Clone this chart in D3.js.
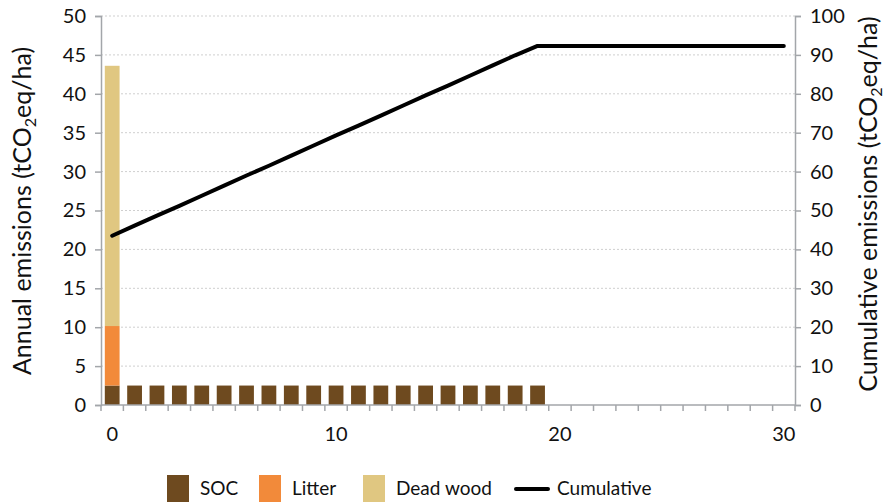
<!DOCTYPE html>
<html><head><meta charset="utf-8">
<script src="https://cdn.jsdelivr.net/npm/d3@7"></script>
<style>body{margin:0;background:#fff}svg{display:block}text{font-family:Lato,sans-serif;fill:#111}</style>
</head><body><svg id="c" width="886" height="503"></svg>
<script>
const years = d3.range(0, 31);
const soc = [2.5,2.5,2.5,2.5,2.5,2.5,2.5,2.5,2.5,2.5,2.5,2.5,2.5,2.5,2.5,2.5,2.5,2.5,2.5,2.5,0,0,0,0,0,0,0,0,0,0,0];
const litter = [7.65,0,0,0,0,0,0,0,0,0,0,0,0,0,0,0,0,0,0,0,0,0,0,0,0,0,0,0,0,0,0];
const deadWood = [33.45,0,0,0,0,0,0,0,0,0,0,0,0,0,0,0,0,0,0,0,0,0,0,0,0,0,0,0,0,0,0];
const cumulative = [43.5,46.1,48.7,51.2,53.8,56.4,59.0,61.5,64.1,66.7,69.3,71.8,74.4,77.0,79.6,82.1,84.7,87.3,89.9,92.3,92.3,92.3,92.3,92.3,92.3,92.3,92.3,92.3,92.3,92.3,92.3];
const leftTicks = [0,5,10,15,20,25,30,35,40,45,50];
const rightTicks = [0,10,20,30,40,50,60,70,80,90,100];
const xLabels = [0,10,20,30];
const seriesNames = ["SOC","Litter","Dead wood"];
const colors = ["#6e4a1f","#f28a3a","#e0c781"];

const svg = d3.select("#c");
const L = 101, R = 795, T = 16, B = 405;
const x = d3.scaleBand().domain(years).range([L, R]).paddingInner(0.34).paddingOuter(0.17);
const xEdge = d3.scaleBand().domain(years).range([L, R]);
const yL = d3.scaleLinear().domain([0,50]).range([B, T]);
const yR = d3.scaleLinear().domain([0,100]).range([B, T]);
const axisColor = "#a3a6aa";
const FONT = "Lato, sans-serif";

// grid
svg.append("g").selectAll("line").data(leftTicks.filter(d=>d>0)).join("line")
  .attr("x1", L).attr("x2", R).attr("y1", d=>yL(d)).attr("y2", d=>yL(d))
  .attr("stroke", "#cfcfcf").attr("stroke-width", 1).attr("stroke-dasharray", "2,2");

// stacked bars
const rows = years.map((y,i)=>({year:y, "SOC":soc[i], "Litter":litter[i], "Dead wood":deadWood[i]}));
const stack = d3.stack().keys(seriesNames)(rows);
svg.append("g").selectAll("g").data(stack).join("g").attr("fill",(d,i)=>colors[i])
  .selectAll("rect").data(d=>d.filter(s=>s[1]-s[0]>0)).join("rect")
  .attr("x", d=>x(d.data.year)).attr("width", x.bandwidth())
  .attr("y", d=>yL(d[1])).attr("height", d=>yL(d[0])-yL(d[1]));

// line
svg.append("path").datum(years.map((y,i)=>[y,cumulative[i]]))
  .attr("fill","none").attr("stroke","#000").attr("stroke-width",4).attr("stroke-linecap","round").attr("stroke-linejoin","round")
  .attr("d", d3.line().x(d=>xEdge(d[0])+xEdge.bandwidth()/2).y(d=>yR(d[1])));

// axes
const gl = svg.append("g").attr("transform",`translate(${L},0)`)
  .call(d3.axisLeft(yL).tickValues(leftTicks).tickSize(6).tickPadding(9));
const gr = svg.append("g").attr("transform",`translate(${R},0)`)
  .call(d3.axisRight(yR).tickValues(rightTicks).tickSize(6).tickPadding(9));
const gx = svg.append("g").attr("transform",`translate(0,${B})`)
  .call(d3.axisBottom(xEdge).tickValues(years).tickSize(0).tickFormat(d=>xLabels.includes(d)?d:"").tickPadding(22));
// x ticks at band edges
gx.append("g").selectAll("line").data(d3.range(0,32)).join("line")
  .attr("x1", i=>L+i*xEdge.step()).attr("x2", i=>L+i*xEdge.step()).attr("y1",0).attr("y2",6)
  .attr("stroke", axisColor).attr("stroke-width",1.5);
[gl,gr,gx].forEach(g=>{
  g.select(".domain").attr("stroke",axisColor).attr("stroke-width",1.5);
  g.selectAll(".tick line").attr("stroke",axisColor).attr("stroke-width",1.5);
  g.selectAll(".tick text").attr("font-size",20).attr("font-family",FONT).attr("fill","#111");
});
gx.select(".domain").attr("d",`M${L},0H${R}`);

// axis titles
const tl = svg.append("text").attr("transform",`translate(31,211) rotate(-90)`).attr("text-anchor","middle").attr("font-size",25);
tl.append("tspan").text("Annual emissions (tCO");
tl.append("tspan").attr("font-size",16).attr("dy",5).text("2");
tl.append("tspan").attr("dy",-5).text("eq/ha)");
const tr = svg.append("text").attr("transform",`translate(877,204) rotate(-90)`).attr("text-anchor","middle").attr("font-size",25);
tr.append("tspan").text("Cumulative emissions (tCO");
tr.append("tspan").attr("font-size",16).attr("dy",5).text("2");
tr.append("tspan").attr("dy",-5).text("eq/ha)");

// legend
const leg = svg.append("g");
const lx = [167,259,363];
seriesNames.forEach((n,i)=>{
  leg.append("rect").attr("x",lx[i]).attr("y",475).attr("width",22).attr("height",27).attr("fill",colors[i]);
  leg.append("text").attr("x",lx[i]+33).attr("y",495).attr("font-size",19).text(n);
});
leg.append("line").attr("x1",516).attr("x2",548).attr("y1",489).attr("y2",489).attr("stroke","#000").attr("stroke-width",4).attr("stroke-linecap","round");
leg.append("text").attr("x",557).attr("y",495).attr("font-size",19).text("Cumulative");
</script></body></html>
